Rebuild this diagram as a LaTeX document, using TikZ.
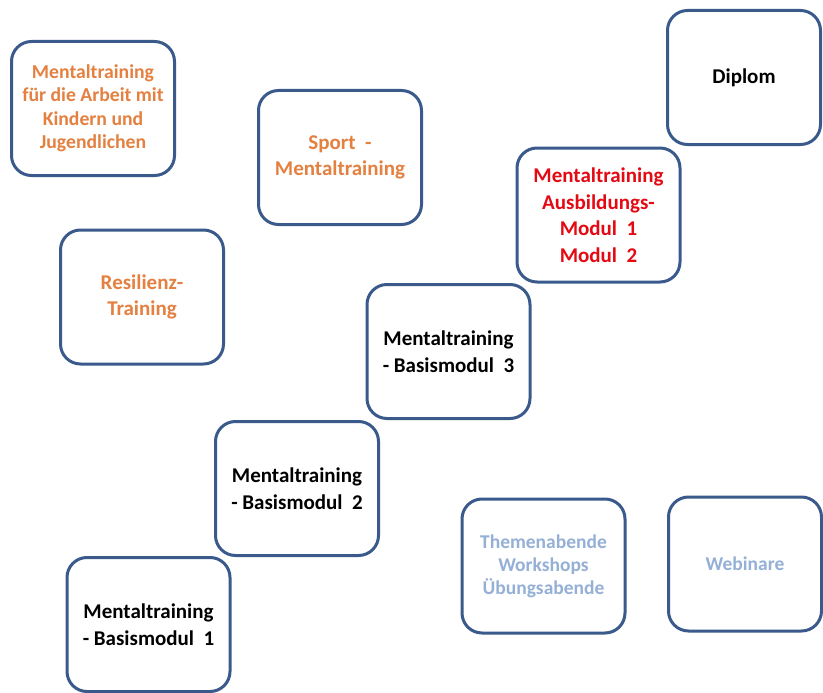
\documentclass[tikz,border=0pt]{standalone}
\usepackage{fontspec}
\setmainfont{Carlito}
\definecolor{boxline}{RGB}{59,90,140}
\definecolor{txtorange}{RGB}{228,128,64}
\definecolor{txtred}{RGB}{228,10,20}
\definecolor{txtgray}{RGB}{149,176,214}
\tikzset{
  modbox/.style={draw=boxline, line width=3pt, rounded corners=20pt, fill=white,
    minimum width=163pt, minimum height=134pt, align=center, inner sep=0pt,
    font=\bfseries\fontsize{21}{27}\selectfont},
  narrowbox/.style={modbox, minimum width=153pt},
  orangetxt/.style={text=txtorange, font=\bfseries\fontsize{19.7}{23.5}\selectfont},
  orangebig/.style={text=txtorange, font=\bfseries\fontsize{21}{26.5}\selectfont},
  redtxt/.style={text=txtred, font=\bfseries\fontsize{21}{26.5}\selectfont},
  graytxt/.style={text=txtgray, font=\bfseries\fontsize{19.5}{23}\selectfont},
}
\begin{document}
\begin{tikzpicture}[x=1pt,y=-1pt]
\useasboundingbox[fill=white] (0,0) rectangle (823,693);
\node[modbox, orangetxt] (kinder) at (93,108.5) {Mentaltraining\\für die Arbeit mit\\Kindern und\\Jugendlichen};
\node[modbox, orangebig] (sport) at (340,157.5) {Sport\ \ -\\Mentaltraining};
\node[modbox, orangebig] (resil) at (142,297) {Resilienz-\\Training};
\node[narrowbox] (diplom) at (744,77.5) {\raisebox{-2pt}{Diplom}};
\node[modbox, redtxt] (ausb) at (598.5,215) {Mentaltraining\\Ausbildungs-\\Modul\ \ 1\\Modul\ \ 2};
\node[modbox] (basis3) at (448.5,351.5) {Mentaltraining\\- Basismodul\ \ 3};
\node[modbox] (basis2) at (297,488.5) {Mentaltraining\\- Basismodul\ \ 2};
\node[modbox] (basis1) at (148.5,624.5) {Mentaltraining\\- Basismodul\ \ 1};
\node[modbox, graytxt] (themen) at (543.5,566) {Themenabende\\Workshops\\Übungsabende};
\node[narrowbox, graytxt] (webinare) at (745,564) {Webinare};
\end{tikzpicture}
\end{document}
